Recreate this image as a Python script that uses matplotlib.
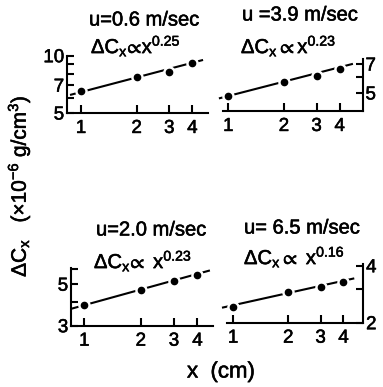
import matplotlib
matplotlib.use("Agg")
import matplotlib.pyplot as plt
import matplotlib.patheffects as pe
from matplotlib.ticker import FixedLocator, NullLocator, FixedFormatter

plt.rcParams['font.family'] = ['Liberation Sans', 'DejaVu Sans']
plt.rcParams['mathtext.fontset'] = 'custom'
plt.rcParams['mathtext.rm'] = 'Liberation Sans'
plt.rcParams['mathtext.it'] = 'Liberation Sans'
plt.rcParams['mathtext.bf'] = 'Liberation Sans:bold'
plt.rcParams['mathtext.fallback'] = 'stixsans'
plt.rcParams['mathtext.default'] = 'regular'

# ---- data ----
x_pts = [1, 2, 3, 4]
x_ticks = [1, 2, 3, 4]
x_ticklabels = ['1', '2', '3', '4']

tl_y = [6.50, 7.73, 8.25, 9.14]
tr_y = [4.82, 5.69, 6.11, 6.61]
bl_y = [3.87, 4.65, 5.19, 5.60]
br_y = [2.43, 2.90, 3.10, 3.27]

# fitted power-law lines (end points)
tl_line_x = [0.872, 4.57]; tl_line_y = [6.22, 9.50]
tr_line_x = [0.89, 4.72];  tr_line_y = [4.69, 7.02]
bl_line_x = [0.857, 4.66]; bl_line_y = [3.70, 5.92]
br_line_x = [0.87, 4.58];  br_line_y = [2.40, 3.43]

velocities = ['0.6', '3.9', '2.0', '6.5']
exponents = ['0.25', '0.23', '0.23', '0.16']

tl_yticks = [5, 6, 7, 8, 9, 10]; tl_ylabels = ['5', '', '7', '', '', '10']
tr_yticks = [5, 6, 7];           tr_ylabels = ['5', '', '7']
bl_yticks = [3, 4, 5, 6];        bl_ylabels = ['3', '', '5', '']
br_yticks = [2, 3, 4];           br_ylabels = ['2', '', '4']

W, H = 383, 387
fig = plt.figure(figsize=(W / 100, H / 100), dpi=100)
bold = [pe.withStroke(linewidth=0.4, foreground='black')]

def rect(x0, x1, ytop, ybot):
    return [x0 / W, 1 - ybot / H, (x1 - x0) / W, (ybot - ytop) / H]

panels = [
    dict(r=rect(67, 208, 55.7, 113), xlim=(0.84, 4.86), ylim=(5, 10), y=tl_y,
         lx=tl_line_x, ly=tl_line_y, yt=tl_yticks, yl=tl_ylabels, right=False),
    dict(r=rect(223.3, 362.7, 59.3, 111), xlim=(0.94, 5.33), ylim=(4.05, 7.4), y=tr_y,
         lx=tr_line_x, ly=tr_line_y, yt=tr_yticks, yl=tr_ylabels, right=True),
    dict(r=rect(71, 213, 268, 325.7), xlim=(0.85, 4.84), ylim=(3, 6.1), y=bl_y,
         lx=bl_line_x, ly=bl_line_y, yt=bl_yticks, yl=bl_ylabels, right=False),
    dict(r=rect(227.3, 363.3, 264.3, 322.7), xlim=(0.93, 5.13), ylim=(2, 4.07), y=br_y,
         lx=br_line_x, ly=br_line_y, yt=br_yticks, yl=br_ylabels, right=True),
]

for p in panels:
    ax = fig.add_axes(p['r'])
    ax.set_xscale('log'); ax.set_yscale('log')
    ax.set_xlim(*p['xlim']); ax.set_ylim(*p['ylim'])
    ax.plot(p['lx'], p['ly'], color='black', lw=1.5, solid_capstyle='butt',
            clip_on=False, zorder=2)
    ax.plot(x_pts, p['y'], 'o', ms=8, color='white', mec='white', zorder=3, clip_on=False)
    ax.plot(x_pts, p['y'], 'o', ms=4.5, color='black', zorder=4, clip_on=False)
    ax.patch.set_visible(False)
    ax.spines['top'].set_visible(False)
    if p['right']:
        ax.spines['left'].set_visible(False)
        ax.yaxis.tick_right()
    else:
        ax.spines['right'].set_visible(False)
    for s in ax.spines.values():
        s.set_linewidth(1.5)
    ax.xaxis.set_major_locator(FixedLocator(x_ticks))
    ax.xaxis.set_major_formatter(FixedFormatter(x_ticklabels))
    ax.xaxis.set_minor_locator(NullLocator())
    ax.yaxis.set_major_locator(FixedLocator(p['yt']))
    ax.yaxis.set_major_formatter(FixedFormatter(p['yl']))
    ax.yaxis.set_minor_locator(NullLocator())
    ax.tick_params(axis='x', direction='in', length=6, width=1.5, pad=5, labelsize=13.5)
    ax.tick_params(axis='y', direction='in', length=5, width=1.5, pad=2, labelsize=13.5)
    for lab in ax.get_xticklabels() + ax.get_yticklabels():
        lab.set_path_effects(bold)

def ftext(x, y, s, size=14.5):
    fig.text(x / W, 1 - y / H, s, va='center', ha='left', fontsize=size,
             path_effects=bold)

ftext(89, 20, 'u=%s m/sec' % velocities[0])
ftext(91, 46, r'$\Delta C_x\!\propto\!x^{%s}$' % exponents[0])
ftext(242, 15, 'u =%s m/sec' % velocities[1])
ftext(241, 46, r'$\Delta C_x \propto x^{%s}$' % exponents[1])
ftext(96, 230, 'u=%s m/sec' % velocities[2])
ftext(94, 261, r'$\Delta C_x\!\propto\ x^{%s}$' % exponents[2])
ftext(244, 228, 'u= %s m/sec' % velocities[3])
ftext(244, 257, r'$\Delta C_x \propto\ x^{%s}$' % exponents[3])

fig.text(19 / W, 1 - 186 / H, r'$\Delta C_x$   ($\times$10$^{-6}$ g/cm$^3$)',
         rotation=90, va='center', ha='center', fontsize=15, path_effects=bold)
fig.text(221 / W, 1 - 372 / H, 'x  (cm)', va='center', ha='center', fontsize=16,
         path_effects=bold)

fig.savefig('out.png', dpi=100)
